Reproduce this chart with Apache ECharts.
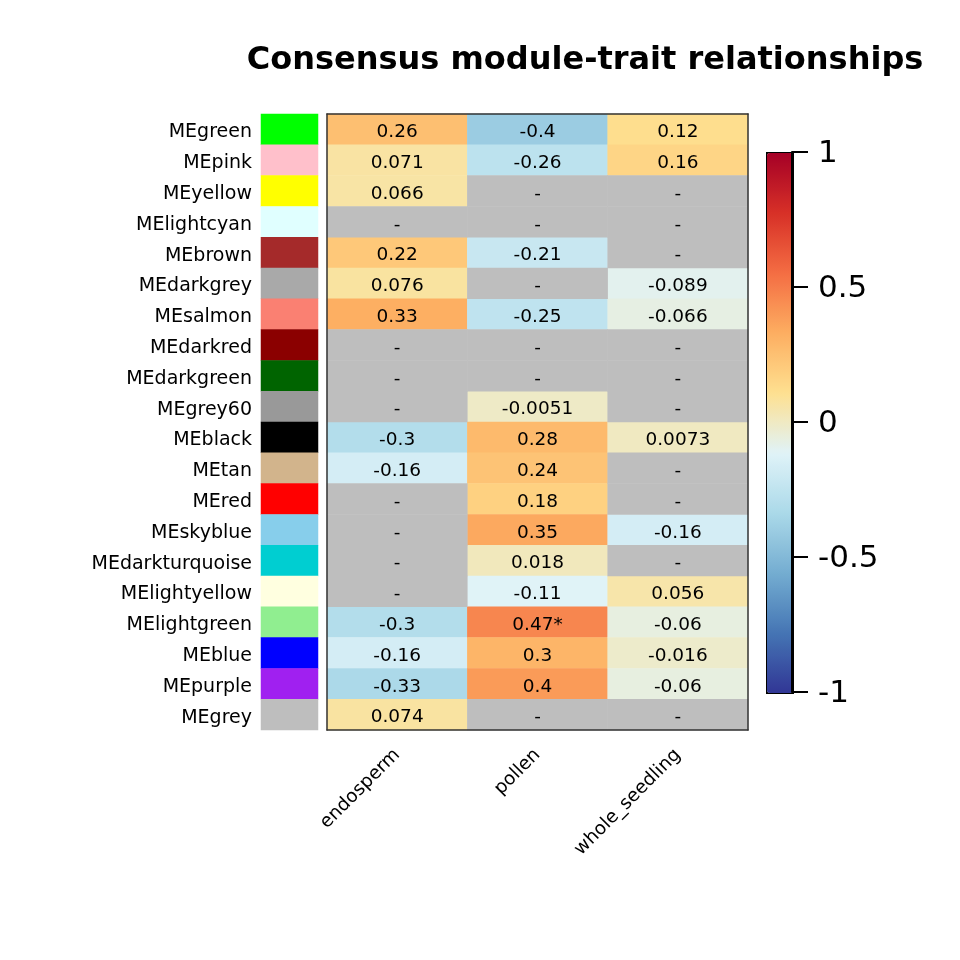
<!DOCTYPE html>
<html><head><meta charset="utf-8">
<script src="https://cdn.jsdelivr.net/npm/echarts@6/dist/echarts.min.js"></script>
<style>html,body{margin:0;padding:0;background:#fff}#c{width:960px;height:960px}</style>
</head><body><div id="c"></div>
<script>
const modules = ["MEgreen","MEpink","MEyellow","MElightcyan","MEbrown","MEdarkgrey","MEsalmon","MEdarkred","MEdarkgreen","MEgrey60","MEblack","MEtan","MEred","MEskyblue","MEdarkturquoise","MElightyellow","MElightgreen","MEblue","MEpurple","MEgrey"];
const moduleColors = ["#00FF00","#FFC0CB","#FFFF00","#E0FFFF","#A52A2A","#A9A9A9","#FA8072","#8B0000","#006400","#999999","#000000","#D2B48C","#FF0000","#87CEEB","#00CED1","#FFFFE0","#90EE90","#0000FF","#A020F0","#BEBEBE"];
const traits = ["endosperm","pollen","whole_seedling"];
// null = not significant ("-")
const endosperm = [0.26,0.071,0.066,null,0.22,0.076,0.33,null,null,null,-0.3,-0.16,null,null,null,null,-0.3,-0.16,-0.33,0.074];
const pollen = [-0.4,-0.26,null,null,-0.21,null,-0.25,null,null,-0.0051,0.28,0.24,0.18,0.35,0.018,-0.11,0.47,0.3,0.4,null];
const wholeSeedling = [0.12,0.16,null,null,null,-0.089,-0.066,null,null,null,0.0073,null,null,-0.16,null,0.056,-0.06,-0.016,-0.06,null];
const stars = {"16,1":"*"};
const colorbarTicks = [-1,-0.5,0,0.5,1];
const palette = ["#313695","#4575B4","#74ADD1","#ABD9E9","#E0F3F8","#FEE090","#FDAE61","#F46D43","#D73027","#A50026"];

const cols = [endosperm, pollen, wholeSeedling];
const sig = [], ns = [];
cols.forEach((arr, ci) => arr.forEach((v, ri) => {
  if (v === null) ns.push([ci, ri, 0]);
  else sig.push({value:[ci, ri, v], label:{formatter: String(v) + (stars[ri+","+ci]||"")}});
}));
const swatch = modules.map((m, i) => ({value:[0, i, 1], itemStyle:{color: moduleColors[i]}}));

const FONT = "DejaVu Sans";
const FS = 18.5;
const chart = echarts.init(document.getElementById('c'), null, {renderer:'canvas'});
chart.setOption({
  animation:false,
  backgroundColor:'#fff',
  textStyle:{fontFamily:FONT},
  title:{text:"Consensus module-trait relationships", left:580, top:40, textAlign:'center',
    textStyle:{fontFamily:FONT, fontWeight:'bold', fontSize:32, color:'#000'}},
  grid:[
    {left:327, top:114, width:421, height:616},
    {left:261, top:114, width:57, height:616},
    {left:792, top:152, width:40, height:540}
  ],
  xAxis:[
    {type:'category', gridIndex:0, data:traits, position:'bottom', z:10,
      axisLine:{show:true, lineStyle:{color:'#333', width:1.5}}, axisTick:{show:false},
      axisLabel:{rotate:45, fontSize:FS, color:'#000', margin:22, fontFamily:FONT}},
    {type:'category', gridIndex:0, data:traits, position:'top', z:10,
      axisLine:{show:true, lineStyle:{color:'#333', width:1.5}}, axisTick:{show:false}, axisLabel:{show:false}},
    {type:'category', gridIndex:1, data:['c'], show:false},
    {type:'value', gridIndex:2, min:0, max:1, show:false}
  ],
  yAxis:[
    {type:'category', gridIndex:0, data:modules, inverse:true, position:'left', z:10,
      axisLine:{show:true, lineStyle:{color:'#333', width:1.5}}, axisTick:{show:false}, axisLabel:{show:false}},
    {type:'category', gridIndex:0, data:modules, inverse:true, position:'right', z:10,
      axisLine:{show:true, lineStyle:{color:'#333', width:1.5}}, axisTick:{show:false}, axisLabel:{show:false}},
    {type:'category', gridIndex:1, data:modules, inverse:true,
      axisLine:{show:false}, axisTick:{show:false},
      axisLabel:{fontSize:19, color:'#000', margin:9, fontFamily:FONT, verticalAlign:'top', lineHeight:6}},
    {type:'value', gridIndex:2, min:-1, max:1, interval:0.5, position:'left', z:10,
      axisLine:{show:true, lineStyle:{color:'#000', width:2}},
      axisTick:{show:true, inside:true, length:16, lineStyle:{color:'#000', width:2}},
      splitLine:{show:false},
      axisLabel:{inside:true, fontSize:31, color:'#000', margin:26, fontFamily:FONT, verticalAlign:'top', lineHeight:4,
        formatter:v => colorbarTicks.includes(v) ? String(v) : ''}}
  ],
  visualMap:{type:'continuous', seriesIndex:0, dimension:2, min:-1, max:1, calculable:false,
    inRange:{color:palette}, orient:'vertical', left:766, top:152, itemWidth:26, itemHeight:540,
    text:null, showLabel:false, padding:0, borderColor:'#000', borderWidth:2},
  series:[
    {type:'heatmap', xAxisIndex:0, yAxisIndex:0, data:sig,
      label:{show:true, fontSize:FS, color:'#000', fontFamily:FONT, offset:[0,3]}},
    {type:'heatmap', xAxisIndex:0, yAxisIndex:0, data:ns, itemStyle:{color:'#BEBEBE'},
      label:{show:true, fontSize:FS, color:'#000', fontFamily:FONT, formatter:'-', offset:[0,3]}},
    {type:'heatmap', xAxisIndex:2, yAxisIndex:2, data:swatch}
  ]
});
</script></body></html>
